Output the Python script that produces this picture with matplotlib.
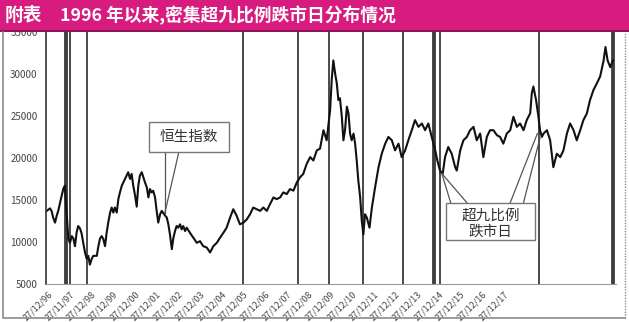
import numpy as np
import matplotlib
matplotlib.use("Agg")
import matplotlib.pyplot as plt
from matplotlib.patches import Rectangle

plt.rcParams['font.family'] = ['Noto Sans CJK SC', 'DejaVu Sans']

# Hang Seng index (decimal year, index level)
years = [1997.01, 1997.13, 1997.19, 1997.25, 1997.32, 1997.38, 1997.44, 1997.51, 1997.57, 1997.63,
         1997.69, 1997.82, 1997.88, 1997.95, 1998.01, 1998.07, 1998.13, 1998.19, 1998.26, 1998.32,
         1998.38, 1998.45, 1998.51, 1998.57, 1998.63, 1998.70, 1998.76, 1998.89, 1998.95, 1999.01,
         1999.07, 1999.13, 1999.20, 1999.26, 1999.32, 1999.39, 1999.45, 1999.51, 1999.57, 1999.64,
         1999.70, 1999.76, 1999.83, 1999.89, 1999.95, 2000.01, 2000.07, 2000.14, 2000.20, 2000.26,
         2000.33, 2000.39, 2000.45, 2000.51, 2000.58, 2000.64, 2000.70, 2000.77, 2000.83, 2000.89,
         2000.95, 2001.01, 2001.08, 2001.14, 2001.20, 2001.27, 2001.33, 2001.42, 2001.52, 2001.58,
         2001.64, 2001.71, 2001.77, 2001.83, 2001.89, 2001.95, 2002.02, 2002.08, 2002.14, 2002.21,
         2002.27, 2002.39, 2002.52, 2002.65, 2002.77, 2002.89, 2003.02, 2003.15, 2003.27, 2003.40,
         2003.52, 2003.65, 2003.77, 2003.90, 2004.02, 2004.15, 2004.27, 2004.40, 2004.53, 2004.65,
         2004.77, 2004.90, 2005.03, 2005.15, 2005.28, 2005.40, 2005.53, 2005.65, 2005.78, 2005.90,
         2006.03, 2006.15, 2006.28, 2006.41, 2006.53, 2006.65, 2006.78, 2006.91, 2007.03, 2007.16,
         2007.28, 2007.41, 2007.53, 2007.66, 2007.72, 2007.78, 2007.85, 2007.91, 2007.97, 2008.03,
         2008.10, 2008.16, 2008.22, 2008.29, 2008.35, 2008.41, 2008.47, 2008.54, 2008.60, 2008.66,
         2008.72, 2008.79, 2008.85, 2008.91, 2008.97, 2009.04, 2009.14, 2009.23, 2009.35, 2009.48,
         2009.60, 2009.73, 2009.85, 2009.98, 2010.10, 2010.23, 2010.35, 2010.48, 2010.60, 2010.73,
         2010.85, 2010.98, 2011.11, 2011.23, 2011.35, 2011.48, 2011.61, 2011.69, 2011.79, 2011.89,
         2011.98, 2012.10, 2012.23, 2012.36, 2012.42, 2012.55, 2012.67, 2012.80, 2012.92, 2013.05,
         2013.17, 2013.30, 2013.42, 2013.55, 2013.67, 2013.80, 2013.93, 2014.05, 2014.17, 2014.30,
         2014.43, 2014.55, 2014.68, 2014.80, 2014.93, 2015.05, 2015.18, 2015.24, 2015.30, 2015.40,
         2015.49, 2015.55, 2015.62, 2015.68, 2015.81, 2015.93, 2015.99, 2016.05, 2016.18, 2016.31,
         2016.43, 2016.56, 2016.68, 2016.81, 2016.93, 2017.06, 2017.18, 2017.31, 2017.43, 2017.56,
         2017.69, 2017.81, 2017.94, 2018.01, 2018.09, 2018.19, 2018.29]
hsi = [13700, 14000, 13700, 12900, 12300, 13100, 13700, 14700, 15500, 16300,
       16700, 10400, 9900, 10700, 10400, 9500, 11100, 11900, 11600, 11000,
       9900, 8700, 8000, 8350, 7300, 8000, 8350, 8350, 9500, 10400,
       10700, 10400, 9500, 11100, 12300, 13500, 14100, 13500, 14100, 13500,
       15100, 15900, 16700, 17100, 17500, 17900, 18300, 17500, 18100, 16700,
       15500, 14200, 16700, 17900, 18300, 17700, 17100, 16500, 15300, 16300,
       15900, 16100, 15300, 13700, 12300, 13300, 13700, 13300, 12900, 12100,
       10900, 9150, 10500, 11300, 11900, 11700, 12100, 11500, 11900, 11300,
       11700, 11100, 10500, 9900, 10100, 9500, 9350, 8750, 9500, 9900,
       10500, 11100, 11700, 12900, 13900, 13100, 12100, 12300, 12700, 13300,
       14100, 13900, 13700, 14100, 13700, 14500, 15300, 15100, 15300, 15900,
       15700, 16300, 16100, 17100, 17700, 18100, 19300, 20100, 19700, 20900,
       21100, 23300, 22100, 25700, 29300, 31600, 30000, 28900, 26900, 27100,
       24900, 22100, 23300, 26100, 25300, 22900, 22100, 22900, 21700, 19700,
       17300, 15300, 12500, 10900, 13300, 12900, 11700, 14100, 16500, 18900,
       20500, 21700, 22500, 22100, 20900, 21700, 20100, 20900, 22100, 23300,
       24500, 23700, 24100, 23300, 24100, 22500, 20900, 19700, 18500, 18100,
       20100, 21300, 20500, 18900, 18500, 20900, 22100, 22500, 23300, 23700,
       22100, 22900, 20100, 22500, 23300, 23300, 22700, 22500, 21700, 22900,
       23300, 24900, 23700, 24100, 23300, 24500, 25300, 27700, 28500, 26900,
       24900, 23300, 22500, 22900, 23300, 22100, 20500, 18900, 20500, 20100,
       20900, 22900, 24100, 23300, 22100, 23300, 24500, 25300, 26900, 28100,
       28900, 29700, 31600, 33200, 31600, 30800, 31600]

# days with extreme market-wide declines (vertical markers)
crash_days = [1997.69, 1997.74, 1997.77, 1997.88, 1998.51, 2004.38, 2006.44, 2007.63,
              2008.89, 2010.41, 2011.54, 2011.58, 2011.61, 2011.79, 2015.53,
              2018.25, 2018.29, 2018.33]

tick_labels = ['27/12/96', '27/11/97', '27/12/98', '27/12/99', '27/12/00', '27/12/01',
               '27/12/02', '27/12/03', '27/12/04', '27/12/05', '27/12/06', '27/12/07',
               '27/12/08', '27/12/09', '27/12/10', '27/12/11', '27/12/12', '27/12/13',
               '27/12/14', '27/12/15', '27/12/16', '27/12/17']
y_ticks = [5000, 10000, 15000, 20000, 25000, 30000, 35000]

fig = plt.figure(figsize=(6.29, 3.22), dpi=100)
fig.patch.set_facecolor('white')

# title band
fig.patches.append(Rectangle((0, 0.905), 1, 0.095, transform=fig.transFigure,
                             facecolor='#d81b7f', edgecolor='none', zorder=0))
fig.patches.append(Rectangle((0, 0.900), 1, 0.006, transform=fig.transFigure,
                             facecolor='#8e1456', edgecolor='none', zorder=1))
fig.text(0.008, 0.952, '附表', color='white', fontsize=13.5, fontweight='bold', va='center')
fig.text(0.095, 0.952, '1996 年以来,密集超九比例跌市日分布情况', color='white',
         fontsize=12.8, fontweight='bold', va='center')

# outer frame
fig.add_artist(plt.Line2D([0.005, 0.005, 0.993], [0.900, 0.013, 0.013],
                          transform=fig.transFigure, color='#8a8a8a', lw=1.2))
fig.add_artist(plt.Line2D([0.993, 0.993], [0.013, 0.900], transform=fig.transFigure,
                          color='#8a8a8a', lw=1, ls=(0, (1, 1))))

ax = fig.add_axes([0.0731, 0.118, 0.906, 0.783])
ax.set_xlim(1996.98, 2018.40)
ax.set_ylim(5000, 35000)

for d in crash_days:
    ax.axvline(d, color='#3c3c3c', lw=1.3, zorder=1)

ax.plot(years, hsi, color='#111111', lw=1.5, zorder=2)

# label boxes with callout lines
ax.add_patch(Rectangle((2000.85, 20650), 3.01, 3590, facecolor='white',
                       edgecolor='#777777', lw=1, zorder=4))
ax.text(2002.35, 22450, '恒生指数', fontsize=10.5, color='#333333', ha='center', va='center', zorder=5)
ax.plot([2001.45, 2001.45], [20650, 13480], color='#555555', lw=0.9, zorder=3)
ax.plot([2001.97, 2001.45], [20650, 13480], color='#555555', lw=0.9, zorder=3)

ax.add_patch(Rectangle((2012.02, 10260), 3.35, 4420, facecolor='white',
                       edgecolor='#777777', lw=1, zorder=4))
ax.text(2013.70, 13150, '超九比例', fontsize=10.5, color='#333333', ha='center', va='center', zorder=5)
ax.text(2013.70, 11250, '跌市日', fontsize=10.5, color='#333333', ha='center', va='center', zorder=5)
ax.plot([2012.19, 2011.86], [14680, 18140], color='#555555', lw=0.9, zorder=3)
ax.plot([2012.80, 2011.86], [14680, 18140], color='#555555', lw=0.9, zorder=3)
ax.plot([2014.43, 2015.45], [14680, 22900], color='#555555', lw=0.9, zorder=3)
ax.plot([2014.93, 2015.55], [14680, 22400], color='#555555', lw=0.9, zorder=3)

tick_pos = 1997.05 + 0.816 * np.arange(len(tick_labels))
ax.set_xticks(tick_pos)
ax.set_xticklabels(tick_labels, rotation=45, ha='right', rotation_mode='anchor',
                   fontsize=6.5, color='#444444')
ax.set_yticks(y_ticks)
ax.set_yticklabels([str(v) for v in y_ticks], fontsize=7, color='#444444')
ax.tick_params(axis='both', length=0)
ax.tick_params(axis='x', pad=4)
ax.tick_params(axis='y', pad=6)

for side in ['top', 'right']:
    ax.spines[side].set_visible(False)
ax.spines['bottom'].set_color('#9a9a9a')
ax.spines['left'].set_color('#333333')
ax.spines['left'].set_linewidth(1.2)

fig.savefig('out.png', dpi=100)
